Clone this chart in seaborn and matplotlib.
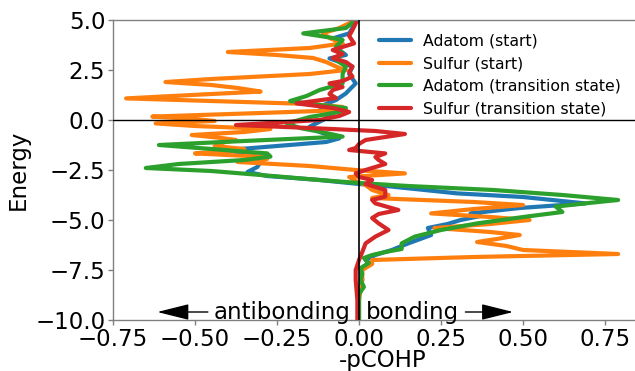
import pandas as pd
import matplotlib
matplotlib.use('Agg')
import matplotlib.pyplot as plt
import seaborn as sns

# Energies (eV) and -pCOHP values, top to bottom
adatom_start_e = [5.0, 4.6, 4.33, 4.08, 3.8, 3.5, 3.25, 3.08, 2.85, 2.67, 2.3, 1.83, 1.5, 1.33,
                  1.0, 0.67, 0.35, 0.0, -0.33, -0.6, -0.92, -1.1, -1.5, -1.83, -2.1, -2.35, -2.6,
                  -2.8, -3.0, -3.2, -3.33, -3.5, -3.67, -3.85, -4.17, -4.4, -4.67, -4.8, -5.0,
                  -5.2, -5.4, -5.75, -6.17, -6.5, -6.75, -7.0, -7.17, -7.5, -8.0, -8.5, -9.0, -10.0]
adatom_start_v = [-0.01, -0.02, -0.03, -0.08, -0.05, -0.06, -0.04, -0.09, -0.05, -0.02, -0.03,
                  -0.01, -0.03, -0.04, -0.07, -0.12, -0.08, -0.11, -0.15, -0.12, -0.06, -0.10,
                  -0.40, -0.31, -0.30, -0.31, -0.34, -0.28, -0.12, 0.0, 0.10, 0.20, 0.30, 0.50,
                  0.69, 0.49, 0.34, 0.37, 0.31, 0.27, 0.21, 0.22, 0.15, 0.10, 0.05, 0.02, 0.03,
                  0.005, 0.01, 0.0, 0.0, 0.0]

sulfur_start_e = [5.0, 4.6, 4.33, 4.1, 3.83, 3.6, 3.4, 3.25, 3.1, 2.9, 2.6, 2.5, 2.3, 2.05, 1.9,
                  1.75, 1.6, 1.5, 1.42, 1.3, 1.08, 0.95, 0.8, 0.65, 0.5, 0.35, 0.17, 0.05, -0.05,
                  -0.17, -0.3, -0.45, -0.6, -0.75, -0.9, -1.0, -1.15, -1.3, -1.45, -1.55, -1.67,
                  -1.83, -1.95, -2.1, -2.3, -2.5, -2.67, -2.85, -3.05, -3.25, -3.5, -3.75, -3.9,
                  -4.1, -4.25, -4.45, -4.67, -4.85, -5.0, -5.2, -5.4, -5.6, -5.75, -5.95, -6.1,
                  -6.3, -6.5, -6.7, -6.85, -7.0, -7.2, -7.5, -8.0, -9.0, -10.0]
sulfur_start_v = [-0.01, -0.06, -0.11, -0.09, -0.05, -0.15, -0.40, -0.25, -0.14, -0.10, -0.06,
                  -0.04, -0.15, -0.45, -0.59, -0.45, -0.37, -0.33, -0.30, -0.45, -0.71, -0.45,
                  -0.15, -0.05, -0.04, -0.30, -0.63, -0.50, -0.44, -0.62, -0.50, -0.27, -0.35,
                  -0.51, -0.42, -0.375, -0.42, -0.44, -0.35, -0.40, -0.50, -0.30, -0.28, -0.37,
                  -0.15, -0.01, 0.14, -0.03, -0.01, 0.02, 0.04, 0.09, 0.04, 0.35, 0.50, 0.35,
                  0.22, 0.40, 0.52, 0.40, 0.23, 0.40, 0.49, 0.42, 0.36, 0.45, 0.50, 0.79, 0.35,
                  0.04, 0.04, 0.01, 0.01, 0.0, 0.0]

adatom_ts_e = [5.0, 4.6, 4.33, 4.1, 4.0, 3.67, 3.33, 3.0, 2.67, 2.3, 1.83, 1.5, 1.2, 0.95, 0.75,
               0.6, 0.4, 0.15, -0.17, -0.4, -0.65, -0.83, -1.05, -1.25, -1.45, -1.67, -1.83,
               -2.0, -2.2, -2.4, -2.55, -2.75, -3.0, -3.15, -3.3, -3.5, -3.75, -4.0, -4.15,
               -4.33, -4.6, -4.83, -5.17, -5.5, -5.83, -6.17, -6.45, -6.6, -6.75, -6.9, -7.15,
               -7.4, -7.7, -8.0, -8.35, -8.7, -9.2, -10.0]
adatom_ts_v = [-0.01, -0.04, -0.17, -0.08, -0.05, -0.07, -0.05, -0.07, -0.04, -0.05, -0.05,
               -0.12, -0.16, -0.21, -0.12, -0.04, -0.06, -0.15, -0.22, -0.18, -0.10, -0.05,
               -0.35, -0.61, -0.45, -0.28, -0.27, -0.35, -0.55, -0.65, -0.45, -0.30, -0.12,
               0.0, 0.15, 0.41, 0.62, 0.79, 0.70, 0.60, 0.62, 0.51, 0.36, 0.25, 0.17, 0.13,
               0.13, 0.08, 0.04, 0.015, 0.03, 0.005, 0.01, 0.005, 0.015, 0.0, 0.0, 0.0]

sulfur_ts_e = [5.0, 4.5, 4.2, 3.83, 3.5, 3.3, 3.1, 2.9, 2.67, 2.4, 2.17, 1.95, 1.83, 1.65, 1.5,
               1.3, 1.1, 0.83, 0.6, 0.4, 0.2, 0.0, -0.25, -0.4, -0.55, -0.7, -0.85, -1.0, -1.2,
               -1.4, -1.5, -1.67, -1.85, -2.0, -2.2, -2.35, -2.5, -2.67, -2.85, -3.0, -3.2,
               -3.5, -3.83, -4.0, -4.17, -4.5, -4.7, -4.9, -5.17, -5.5, -5.83, -6.17, -6.6,
               -7.0, -7.5, -8.0, -9.0, -10.0]
sulfur_ts_v = [-0.005, -0.02, -0.03, -0.015, -0.08, -0.05, -0.08, -0.04, -0.02, -0.03, -0.02,
               -0.05, -0.09, -0.05, -0.08, -0.09, -0.07, -0.19, -0.08, -0.03, -0.06, -0.12,
               -0.375, -0.15, 0.05, 0.14, 0.08, 0.02, 0.0, -0.01, -0.03, 0.08, 0.05, 0.06,
               0.08, 0.05, 0.02, -0.01, 0.0, 0.04, 0.02, 0.08, 0.08, 0.04, 0.05, 0.12, 0.06,
               0.04, 0.06, 0.09, 0.05, 0.02, 0.01, 0.0, -0.01, -0.01, -0.005, -0.005]

labels = ['Adatom (start)', 'Sulfur (start)', 'Adatom (transition state)', 'Sulfur (transition state)']
colors = ['#1f77b4', '#ff7f0e', '#2ca02c', '#d62728']

frames = []
for lab, e, v in zip(labels,
                     [adatom_start_e, sulfur_start_e, adatom_ts_e, sulfur_ts_e],
                     [adatom_start_v, sulfur_start_v, adatom_ts_v, sulfur_ts_v]):
    frames.append(pd.DataFrame({'energy': e, 'pcohp': v, 'label': lab}))
df = pd.concat(frames, ignore_index=True)

sns.set_style('ticks')
plt.rcParams['font.family'] = ['DejaVu Sans']
plt.rcParams['font.size'] = 16.5
plt.rcParams['text.color'] = 'black'
plt.rcParams['axes.labelcolor'] = 'black'

fig = plt.figure(figsize=(6.35, 3.71), dpi=100)
ax = fig.add_axes([113 / 635, 51 / 371, 540 / 635, 300 / 371])

sns.lineplot(data=df, x='pcohp', y='energy', hue='label', hue_order=labels,
             palette=colors, sort=False, estimator=None, orient='y', lw=3, ax=ax)

ax.axvline(0, color='k', lw=1.2, zorder=5)
ax.axhline(0, color='k', lw=1.0, zorder=5)

ax.set_xlim(-0.75, -0.75 + 540 / 328)
ax.set_ylim(-10, 5)
ax.set_xticks([-0.75, -0.5, -0.25, 0.0, 0.25, 0.5, 0.75])
ax.set_yticks([5.0, 2.5, 0.0, -2.5, -5.0, -7.5, -10.0])
ax.set_xlabel('-pCOHP', fontsize=16.5, labelpad=-1)
ax.set_ylabel('Energy', fontsize=16.5, labelpad=4)
ax.tick_params(labelsize=16.5, color='0.5', labelcolor='black', length=3.5, width=1, pad=2)
for s in ax.spines.values():
    s.set_color('0.5')
    s.set_linewidth(1)
ax.spines['right'].set_visible(False)

arrow = dict(arrowstyle='-|>,head_length=1.2,head_width=0.3', color='k', lw=1,
             shrinkA=2, shrinkB=0)
ax.annotate('antibonding', xy=(-0.615, -9.6), xytext=(-0.025, -9.6), ha='right',
            va='center', fontsize=16.5, arrowprops=arrow)
ax.annotate('bonding', xy=(0.47, -9.6), xytext=(0.022, -9.6), ha='left',
            va='center', fontsize=16.5, arrowprops=arrow)

leg = ax.legend(loc='upper left', bbox_to_anchor=(373 / 635, 1 - 27 / 371),
                bbox_transform=fig.transFigure, frameon=False, fontsize=11.3,
                borderaxespad=0, title=None)
for t in leg.get_texts():
    t.set_color('black')

fig.savefig('out.png', dpi=100)
